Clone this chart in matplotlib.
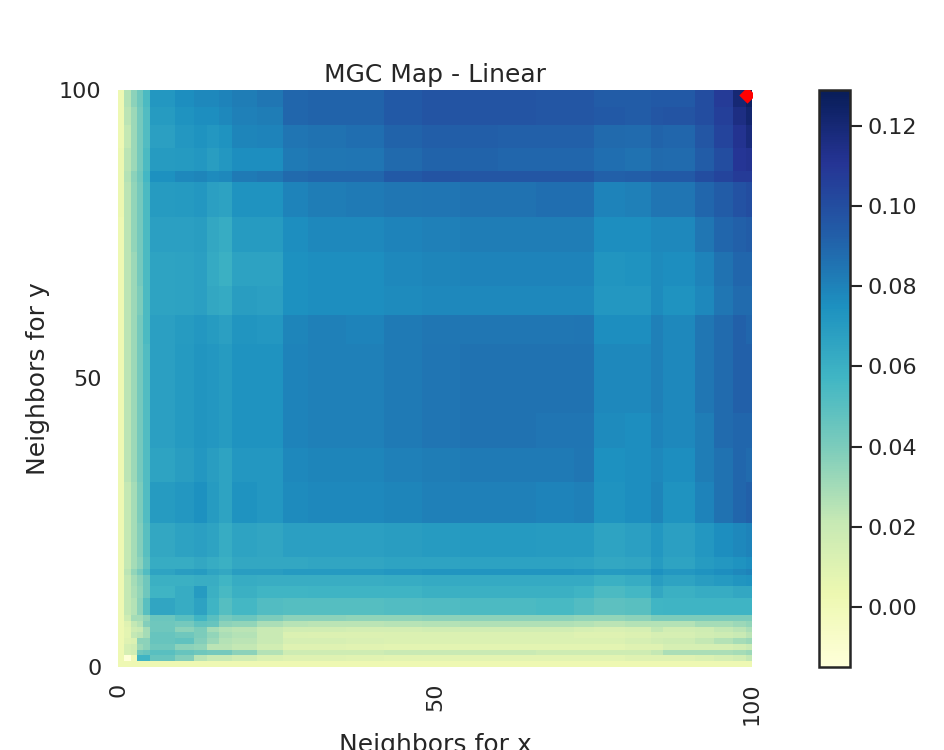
import numpy as np
import matplotlib
matplotlib.use('Agg')
import matplotlib.pyplot as plt

# heatmap blocks (edges in neighbor counts)
x_edges = [0, 1, 2, 3, 4, 5, 9, 12, 14, 16, 18, 22, 26, 30, 36, 42, 48, 54, 60, 66, 72, 75, 80, 84, 86, 91, 94, 97, 99, 100]
y_edges = [100, 97, 94, 90, 86, 84, 78, 72, 66, 61, 56, 50, 44, 38, 32, 25, 19, 17, 16, 14, 12, 9, 8, 7, 6, 5, 4, 3, 2, 1, 0]

# statistic in thousandths, top row first
mgc_rows = [
    [2, 26, 36, 44, 54, 72, 76, 78, 78, 80, 82, 84, 90, 91, 91, 95, 97, 97, 97, 96, 96, 94, 94, 95, 95, 100, 108, 120, 126],
    [2, 24, 32, 42, 52, 70, 74, 76, 76, 78, 81, 82, 90, 91, 91, 95, 97, 97, 97, 96, 96, 95, 94, 96, 97, 100, 106, 116, 122],
    [2, 22, 32, 42, 52, 68, 72, 74, 72, 74, 79, 80, 85, 86, 87, 91, 93, 93, 92, 92, 92, 89, 88, 91, 90, 96, 104, 112, 118],
    [4, 24, 32, 42, 54, 70, 71, 72, 69, 72, 76, 76, 83, 84, 85, 89, 91, 91, 90, 90, 90, 87, 86, 89, 88, 94, 100, 110, 112],
    [4, 26, 36, 44, 56, 75, 78, 79, 77, 78, 83, 84, 89, 90, 90, 95, 97, 96, 96, 96, 96, 92, 93, 95, 95, 100, 104, 108, 108],
    [4, 24, 34, 42, 54, 70, 71, 72, 68, 67, 74, 74, 80, 82, 83, 84, 85, 86, 86, 87, 87, 80, 81, 85, 85, 90, 94, 98, 100],
    [2, 24, 34, 42, 54, 68, 68, 69, 64, 62, 70, 70, 76, 78, 78, 80, 81, 82, 82, 82, 82, 76, 76, 78, 78, 84, 90, 92, 94],
    [2, 24, 32, 42, 54, 66, 67, 68, 63, 60, 67, 67, 75, 76, 76, 78, 79, 80, 80, 80, 80, 73, 74, 77, 76, 80, 86, 90, 90],
    [2, 24, 32, 40, 54, 66, 67, 68, 64, 63, 69, 68, 75, 76, 76, 77, 78, 78, 78, 78, 78, 72, 72, 77, 74, 78, 84, 88, 88],
    [2, 24, 32, 42, 54, 68, 70, 72, 70, 68, 73, 72, 79, 81, 80, 83, 84, 84, 84, 84, 85, 76, 76, 81, 78, 84, 88, 92, 90],
    [2, 24, 32, 42, 52, 68, 71, 73, 72, 70, 74, 74, 80, 81, 81, 83, 85, 86, 86, 86, 86, 78, 78, 81, 78, 84, 88, 92, 92],
    [2, 24, 32, 42, 52, 68, 71, 73, 72, 70, 74, 74, 80, 81, 81, 83, 85, 86, 86, 86, 86, 78, 78, 81, 78, 84, 88, 92, 92],
    [2, 24, 32, 42, 52, 68, 71, 73, 72, 70, 74, 74, 80, 81, 81, 83, 85, 86, 86, 85, 85, 77, 76, 80, 78, 82, 88, 90, 90],
    [2, 24, 32, 42, 52, 66, 69, 72, 69, 66, 72, 72, 78, 79, 79, 81, 82, 83, 83, 83, 84, 75, 76, 78, 76, 82, 86, 90, 88],
    [2, 22, 30, 40, 52, 70, 72, 75, 70, 66, 74, 72, 77, 78, 78, 79, 81, 81, 81, 80, 81, 74, 76, 79, 74, 80, 86, 90, 92],
    [2, 22, 30, 38, 50, 64, 67, 68, 66, 62, 66, 65, 68, 68, 68, 69, 70, 71, 71, 70, 70, 66, 68, 72, 68, 72, 76, 78, 80],
    [2, 22, 30, 36, 48, 62, 62, 64, 62, 60, 64, 64, 64, 65, 65, 66, 66, 67, 67, 67, 66, 64, 65, 70, 66, 70, 72, 74, 76],
    [2, 24, 34, 42, 52, 66, 69, 70, 66, 64, 69, 69, 71, 71, 71, 72, 73, 73, 73, 73, 72, 70, 71, 75, 72, 74, 76, 78, 80],
    [2, 22, 30, 36, 44, 60, 60, 61, 61, 57, 62, 61, 61, 61, 61, 62, 63, 63, 63, 63, 63, 60, 62, 69, 66, 69, 71, 73, 74],
    [2, 22, 28, 34, 44, 58, 62, 70, 60, 55, 60, 57, 57, 58, 58, 58, 60, 60, 60, 60, 58, 54, 56, 64, 60, 62, 62, 64, 64],
    [2, 22, 26, 36, 50, 65, 62, 67, 58, 51, 56, 52, 51, 51, 51, 52, 53, 54, 54, 55, 52, 49, 50, 57, 58, 58, 58, 58, 58],
    [2, 18, 30, 30, 35, 45, 50, 57, 50, 42, 45, 40, 36, 36, 35, 35, 36, 36, 36, 36, 34, 34, 36, 40, 40, 40, 40, 40, 40],
    [2, 10, 22, 26, 38, 44, 42, 48, 46, 36, 34, 28, 25, 24, 24, 25, 26, 27, 27, 27, 26, 24, 26, 26, 26, 30, 30, 32, 34],
    [2, 8, 18, 20, 30, 44, 36, 40, 30, 26, 24, 20, 16, 16, 15, 15, 16, 16, 16, 16, 14, 13, 14, 22, 16, 18, 22, 24, 28],
    [2, 8, 22, 24, 30, 46, 44, 40, 34, 28, 26, 20, 12, 11, 11, 12, 12, 12, 12, 12, 10, 10, 11, 14, 14, 16, 18, 20, 24],
    [2, 10, 12, 36, 36, 46, 48, 38, 32, 26, 24, 20, 14, 14, 13, 12, 12, 12, 12, 12, 12, 12, 14, 16, 18, 22, 26, 30, 32],
    [2, 14, 16, 32, 36, 44, 36, 34, 24, 24, 22, 16, 10, 10, 9, 8, 8, 8, 8, 8, 8, 8, 10, 10, 14, 14, 14, 16, 20],
    [2, 14, 16, 44, 46, 50, 46, 44, 42, 42, 36, 26, 18, 18, 18, 20, 20, 20, 20, 18, 18, 18, 18, 22, 28, 28, 28, 30, 32],
    [2, -14, 0, 58, 58, 46, 38, 24, 20, 20, 16, 12, 10, 10, 9, 8, 8, 8, 8, 8, 8, 8, 10, 10, 10, 12, 14, 16, 22],
    [2, 2, 2, 2, 2, 2, 2, 2, 2, 2, 2, 2, 2, 2, 2, 2, 2, 2, 2, 2, 2, 2, 2, 2, 2, 2, 2, 2, 2],
]

best_scale = [99.2, 99.2]
tick_vals = [0, 50, 100]
cbar_ticks = [0.00, 0.02, 0.04, 0.06, 0.08, 0.10, 0.12]

ink = '#262626'
plt.rcParams['font.size'] = 16
plt.rcParams['text.color'] = ink
plt.rcParams['axes.labelcolor'] = ink
plt.rcParams['xtick.color'] = ink
plt.rcParams['ytick.color'] = ink

fig = plt.figure(figsize=(9.44, 7.5), dpi=100)
ax = fig.add_axes([118 / 944, 83 / 750, 634 / 944, 577 / 750])
cax = fig.add_axes([819 / 944, 83 / 750, 31 / 944, 577 / 750])

stat = np.array(mgc_rows) / 1000
mesh = ax.pcolormesh(x_edges, y_edges, stat, cmap='YlGnBu', vmin=-0.015, vmax=0.129)

# optimal scale marker
ax.scatter(best_scale[0], best_scale[1], marker='D', s=70, color='red', linewidths=0, zorder=3)

ax.set_xlim(0, 100)
ax.set_ylim(0, 100)
ax.set_xticks(tick_vals)
ax.set_yticks(tick_vals)
ax.set_xticklabels(tick_vals, rotation=90)
ax.set_yticklabels(tick_vals)
ax.tick_params(axis='x', length=0, pad=11)
ax.tick_params(axis='y', length=0, pad=12)
for side in ax.spines.values():
    side.set_visible(False)

ax.set_title('MGC Map - Linear', fontsize=18, pad=6)
ax.set_xlabel('Neighbors for x', fontsize=18, labelpad=6)
ax.set_ylabel('Neighbors for y', fontsize=18, labelpad=6)

cbar = fig.colorbar(mesh, cax=cax, ticks=cbar_ticks)
cbar.ax.set_yticklabels(['%.2f' % t for t in cbar_ticks])
cbar.ax.tick_params(length=8.5, width=1.5, pad=4, labelsize=16)
cbar.outline.set_linewidth(1.8)
cbar.outline.set_edgecolor(ink)

fig.savefig('out.png', dpi=100)
